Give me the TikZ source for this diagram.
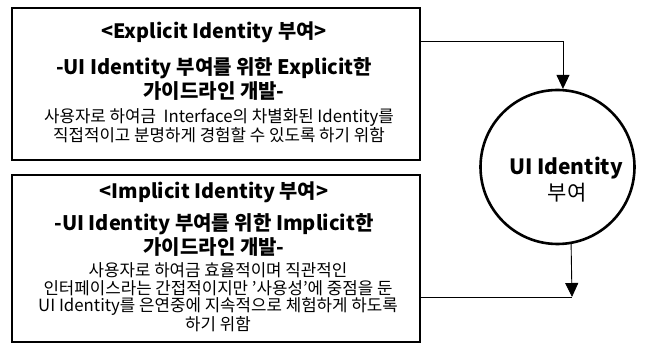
\documentclass[tikz,border=0pt]{standalone}
\usepackage{fontspec}
\setmainfont{Noto Sans CJK KR}
\usetikzlibrary{arrows.meta}
\tikzset{
  box/.style={draw, line width=1.3pt, minimum width=408pt, inner sep=0pt},
  ttl/.style={font=\fontsize{19.8}{22}\selectfont\bfseries, inner sep=0pt},
  sub/.style={font=\fontsize{20}{24}\selectfont\bfseries, align=center, inner sep=0pt},
  body/.style={font=\fontsize{16.8}{17.5}\selectfont, align=center, inner sep=0pt},
  arr/.style={line width=0.9pt, -{Triangle[length=14pt,width=13pt]}},
  ln/.style={line width=0.9pt}
}
\begin{document}
\begin{tikzpicture}[x=1pt,y=-1pt]
\useasboundingbox (0,0) rectangle (651,347);
% boxes
\node[box, minimum height=152pt] (top) at (216,84) {};
\node[box, minimum height=167pt] (bot) at (216,258.5) {};
% top texts
\node[ttl] (t1) at (214,32) {<Explicit Identity 부여>};
\node[sub] (t2) at (214,79.5) {-UI Identity 부여를 위한 Explicit한\\가이드라인 개발-};
\node[body] (t3) at (219,126) {사용자로 하여금 \ Interface의 차별화된 Identity를\\직접적이고 분명하게 경험할 수 있도록 하기 위함};
% bottom texts
\node[ttl] (b1) at (214,192) {<Implicit Identity 부여>};
\node[sub] (b2) at (214,235.5) {-UI Identity 부여를 위한 Implicit한\\가이드라인 개발-};
\node[body] (b3) at (218,297.5) {사용자로 하여금 효율적이며 직관적인\\인터페이스라는 간접적이지만 '사용성'에 중점을 둔\\UI Identity를 은연중에 지속적으로 체험하게 하도록\\하기 위함};
% circle
\node[draw, circle, line width=2.6pt, minimum size=154pt, inner sep=0pt] (circ) at (557.5,167) {};
\node[font=\fontsize{21}{26}\selectfont\bfseries, inner sep=0pt] (c1) at (566,168) {UI Identity};
\node[font=\fontsize{21}{26}\selectfont, inner sep=0pt] (c2) at (567,193) {부여};
% connectors
\coordinate (j1) at (563,41);
\coordinate (j2) at (572,297);
\draw[arr] (top.east |- j1) -| (circ.86);
\draw[arr] (circ.-80) -- (j2);
\draw[ln] (bot.east |- j2) -- (j2);
\end{tikzpicture}
\end{document}
